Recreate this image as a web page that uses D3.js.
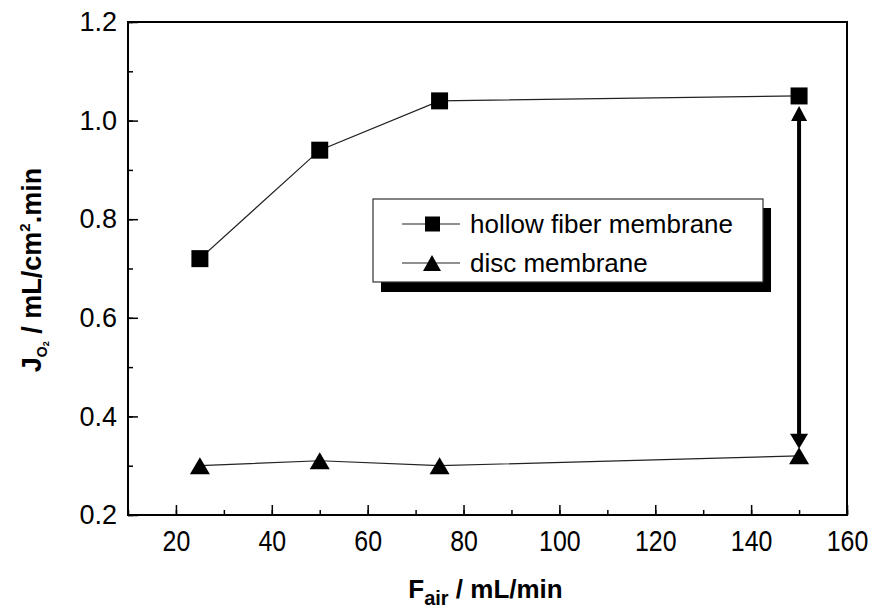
<!DOCTYPE html>
<html>
<head>
<meta charset="utf-8">
<script src="https://cdn.jsdelivr.net/npm/d3@7"></script>
<style>
  body { margin: 0; background: #fff; }
  svg { display: block; font-family: "Liberation Sans", Arial, sans-serif; }
</style>
</head>
<body>
<div id="chart"></div>
<script>
// data
var airFlow = [25, 50, 75, 150];
var hollowFiber = [0.72, 0.94, 1.04, 1.05];
var discMembrane = [0.30, 0.31, 0.30, 0.32];
var xTicks = [20, 40, 60, 80, 100, 120, 140, 160];
var yTicks = [0.2, 0.4, 0.6, 0.8, 1.0, 1.2];
var legendNames = ["hollow fiber membrane", "disc membrane"];

var width = 871, height = 609;
var plotLeft = 128, plotRight = 847, plotTop = 22, plotBottom = 515;

var svg = d3.select("#chart").append("svg")
    .attr("width", width)
    .attr("height", height);

svg.append("rect").attr("width", width).attr("height", height).attr("fill", "#fff");

var x = d3.scaleLinear().domain([10, 160]).range([plotLeft, plotRight]);
var y = d3.scaleLinear().domain([0.2, 1.2]).range([plotBottom, plotTop]);

// minor ticks
svg.append("g")
    .attr("transform", "translate(0," + plotBottom + ")")
    .call(d3.axisBottom(x).tickValues(d3.range(10, 161, 10)).tickSize(-5).tickFormat(""))
    .call(function(g) { g.select(".domain").remove(); })
    .selectAll("line").attr("stroke-width", 1.5);
svg.append("g")
    .attr("transform", "translate(" + plotLeft + ",0)")
    .call(d3.axisLeft(y).tickValues(d3.range(0.2, 1.21, 0.1)).tickSize(-5).tickFormat(""))
    .call(function(g) { g.select(".domain").remove(); })
    .selectAll("line").attr("stroke-width", 1.5);

// major ticks + labels
var xAxis = svg.append("g")
    .attr("transform", "translate(0," + plotBottom + ")")
    .call(d3.axisBottom(x).tickValues(xTicks).tickSize(-10).tickPadding(15).tickFormat(d3.format("d")));
xAxis.select(".domain").remove();
xAxis.selectAll("line").attr("stroke-width", 1.5);
xAxis.selectAll("text")
    .attr("font-family", "'Liberation Sans', Arial, sans-serif")
    .attr("font-size", 29)
    .attr("fill", "#000")
    .attr("transform", "scale(0.86,1)");

var yAxis = svg.append("g")
    .attr("transform", "translate(" + plotLeft + ",0)")
    .call(d3.axisLeft(y).tickValues(yTicks).tickSize(-10).tickPadding(11).tickFormat(d3.format(".1f")));
yAxis.select(".domain").remove();
yAxis.selectAll("line").attr("stroke-width", 1.5);
yAxis.selectAll("text")
    .attr("font-family", "'Liberation Sans', Arial, sans-serif")
    .attr("font-size", 27)
    .attr("fill", "#000");

// frame
svg.append("rect")
    .attr("x", plotLeft).attr("y", plotTop)
    .attr("width", plotRight - plotLeft).attr("height", plotBottom - plotTop)
    .attr("fill", "none").attr("stroke", "#000").attr("stroke-width", 2);

// series lines
var line = d3.line();
svg.append("path")
    .attr("d", line(airFlow.map(function(d, i) { return [x(d), y(hollowFiber[i])]; })))
    .attr("fill", "none").attr("stroke", "#222").attr("stroke-width", 1.2);
svg.append("path")
    .attr("d", line(airFlow.map(function(d, i) { return [x(d), y(discMembrane[i])]; })))
    .attr("fill", "none").attr("stroke", "#222").attr("stroke-width", 1.2);

// double arrow between the two series at the last flow
var ax = x(airFlow[3]);
var yTop = y(hollowFiber[3]) + 10, yBot = y(discMembrane[3]) - 7;
svg.append("line")
    .attr("x1", ax).attr("x2", ax)
    .attr("y1", yTop + 10).attr("y2", yBot - 10)
    .attr("stroke", "#000").attr("stroke-width", 4);
svg.append("path")
    .attr("d", "M" + ax + "," + yTop + "L" + (ax - 8) + "," + (yTop + 15) + "L" + (ax + 8) + "," + (yTop + 15) + "Z")
    .attr("fill", "#000");
svg.append("path")
    .attr("d", "M" + ax + "," + yBot + "L" + (ax - 9) + "," + (yBot - 15) + "L" + (ax + 9) + "," + (yBot - 15) + "Z")
    .attr("fill", "#000");

// markers
var square = d3.symbol().type(d3.symbolSquare).size(17 * 17);
svg.selectAll(".sq").data(airFlow).enter().append("path")
    .attr("class", "sq")
    .attr("d", square)
    .attr("transform", function(d, i) { return "translate(" + x(d) + "," + y(hollowFiber[i]) + ")"; })
    .attr("fill", "#000");

function tri(w, h) {
  return "M0," + (-h / 2) + "L" + (w / 2) + "," + (h / 2) + "L" + (-w / 2) + "," + (h / 2) + "Z";
}
svg.selectAll(".tr").data(airFlow).enter().append("path")
    .attr("class", "tr")
    .attr("d", tri(20, 17))
    .attr("transform", function(d, i) { return "translate(" + x(d) + "," + y(discMembrane[i]) + ")"; })
    .attr("fill", "#000");

// legend
var lg = svg.append("g");
lg.append("rect").attr("x", 381).attr("y", 208).attr("width", 390).attr("height", 84).attr("fill", "#000");
lg.append("rect").attr("x", 373).attr("y", 199).attr("width", 390).attr("height", 83)
    .attr("fill", "#fff").attr("stroke", "#333").attr("stroke-width", 1.2);

var rows = [224, 263];
rows.forEach(function(ry, i) {
  lg.append("line").attr("x1", 402).attr("x2", 460).attr("y1", ry).attr("y2", ry)
      .attr("stroke", "#222").attr("stroke-width", 1.2);
  if (i === 0) {
    lg.append("rect").attr("x", 425).attr("y", ry - 7.5).attr("width", 15).attr("height", 15).attr("fill", "#000");
  } else {
    lg.append("path").attr("d", tri(18, 16)).attr("transform", "translate(432," + ry + ")").attr("fill", "#000");
  }
  lg.append("text").attr("x", 470).attr("y", ry + 8.5)
      .attr("font-size", 26).attr("fill", "#000")
      .text(legendNames[i]);
});

// axis titles
var xt = svg.append("text")
    .attr("x", (plotLeft + plotRight) / 2 - 2).attr("y", 598)
    .attr("text-anchor", "middle")
    .attr("font-size", 26).attr("font-weight", "bold");
xt.append("tspan").text("F");
xt.append("tspan").attr("font-size", 20).attr("dy", 7).text("air");
xt.append("tspan").attr("dy", -7).text(" / mL/min");

var yt = svg.append("text")
    .attr("transform", "translate(41,270) rotate(-90)")
    .attr("text-anchor", "middle")
    .attr("font-size", 27).attr("font-weight", "bold");
yt.append("tspan").text("J");
yt.append("tspan").attr("font-size", 14).attr("dy", 6).text("O");
yt.append("tspan").attr("font-size", 9).attr("dy", 2).text("2");
yt.append("tspan").attr("dy", -8).text(" / mL/cm");
yt.append("tspan").attr("font-size", 15).attr("dy", -11).text("2");
yt.append("tspan").attr("dy", 11).text(".min");
</script>
</body>
</html>
